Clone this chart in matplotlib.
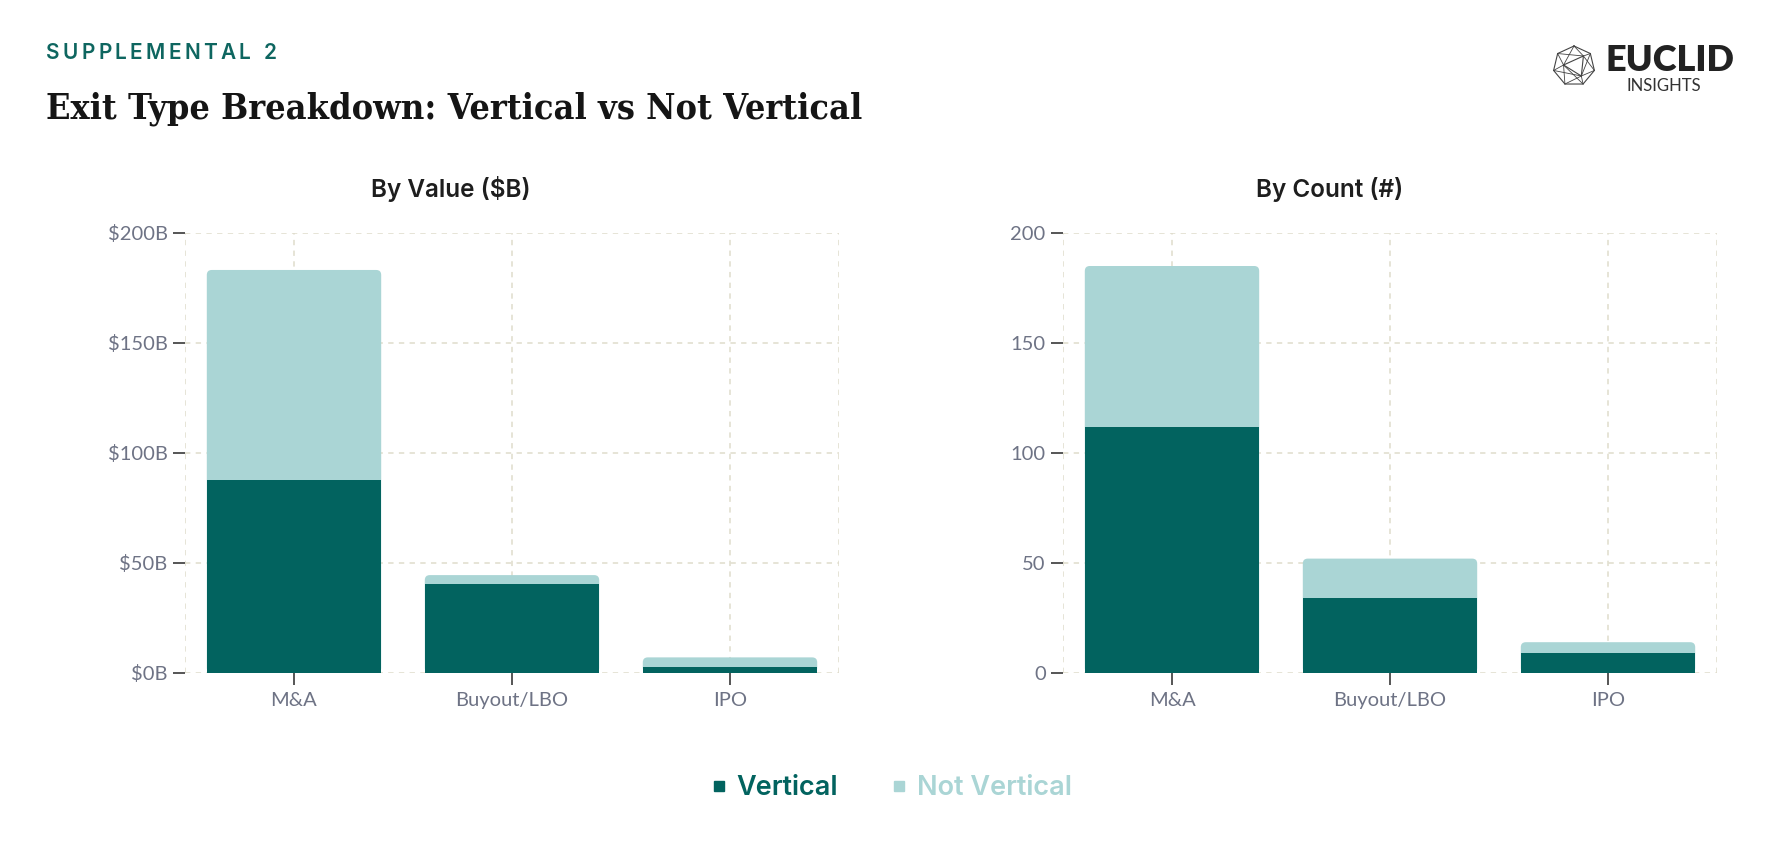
import matplotlib
matplotlib.use("Agg")
import matplotlib.pyplot as plt
from matplotlib.patches import FancyBboxPatch
from matplotlib.lines import Line2D
from matplotlib import font_manager as fm
import numpy as np

# ---------------- data ----------------
categories = ["M&A", "Buyout/LBO", "IPO"]
value_vertical = [87.7, 40.6, 2.9]
value_not_vertical = [95.5, 3.9, 4.2]
count_vertical = [112, 34, 9]
count_not_vertical = [73, 18, 5]
value_ticks = [0, 50, 100, 150, 200]
value_tick_labels = [r"\$0B", r"\$50B", r"\$100B", r"\$150B", r"\$200B"]
count_ticks = [0, 50, 100, 150, 200]
count_tick_labels = ["0", "50", "100", "150", "200"]
series_names = ["Vertical", "Not Vertical"]
panel_titles = [r"By Value (\$B)", "By Count (#)"]
kicker = "SUPPLEMENTAL 2"
title = "Exit Type Breakdown: Vertical vs Not Vertical"

# ---------------- style ----------------
DARK = "#02635F"
LIGHT = "#AAD5D5"
GRID = "#DFDCCC"
TICKLBL = "#6E7385"
TICKCOL = "#555555"
TEXT = "#1E1E1E"
SANS = ["Inter", "DejaVu Sans"]
TICKFONT = ["Lato", "DejaVu Sans"]

W, H = 1792, 852
fig = plt.figure(figsize=(W / 100, H / 100), dpi=100)
fig.patch.set_facecolor("white")


def fy(py):
    return 1 - py / H


ax_top, ax_bot = 233, 673
panels = [(185, 839), (1063, 1717)]
axes = []
for (l, r) in panels:
    ax = fig.add_axes([l / W, fy(ax_bot), (r - l) / W, (ax_bot - ax_top) / H])
    axes.append(ax)

datasets = [
    (value_vertical, value_not_vertical, value_ticks, value_tick_labels),
    (count_vertical, count_not_vertical, count_ticks, count_tick_labels),
]

x = np.arange(len(categories))
bar_w = 0.8
radius_px = 5

for ax, (l, r), (vert, notv, ticks, tlabels) in zip(axes, panels, datasets):
    ax.set_xlim(-0.5, len(categories) - 0.5)
    ax.set_ylim(0, 200)
    for s in ax.spines.values():
        s.set_visible(False)
    ax.set_axisbelow(True)
    ax.grid(True, color=GRID, linestyle=(0, (3.5, 3.5)), linewidth=1.1, zorder=0.5)
    for xv in (-0.5, len(categories) - 0.5):
        ax.axvline(xv, color=GRID, linestyle=(0, (3.5, 3.5)), linewidth=1.1, zorder=0.5)
    ax.set_yticks(ticks)
    ax.set_yticklabels(tlabels)
    ax.set_xticks(x)
    ax.set_xticklabels(categories)
    ax.tick_params(axis="both", length=8.5, width=1.4, color=TICKCOL,
                   labelcolor=TICKLBL, labelsize=14.5)
    ax.tick_params(axis="y", pad=4)
    ax.tick_params(axis="x", pad=5)
    for lbl in ax.get_xticklabels() + ax.get_yticklabels():
        lbl.set_fontfamily(TICKFONT)

    xu_per_px = (len(categories)) / (r - l)
    yu_per_px = 200 / (ax_bot - ax_top)
    aspect = yu_per_px / xu_per_px
    totals = np.array(vert) + np.array(notv)
    for xi, tot in zip(x, totals):
        p = FancyBboxPatch((xi - bar_w / 2, 0), bar_w, tot,
                           boxstyle=f"round,pad=0,rounding_size={radius_px * xu_per_px}",
                           mutation_aspect=aspect, facecolor=LIGHT, edgecolor="none",
                           zorder=2.5)
        ax.add_patch(p)
    ax.bar(x, vert, width=bar_w, color=DARK, edgecolor="none", zorder=3)

# panel titles
title_x = [451, 1330]
for tx, tt in zip(title_x, panel_titles):
    fig.text(tx / W, fy(197), tt, ha="center", va="baseline", fontsize=17.5,
             fontweight="semibold", color=TEXT, family=SANS)

# ---------------- header ----------------
renderer = fig.canvas.get_renderer()
cx = 46
tracking = 3.3
for ch in kicker:
    t = fig.text(cx / W, fy(59), ch, ha="left", va="baseline", fontsize=15,
                 fontweight="semibold", color="#0E6660", family=SANS)
    if ch == " ":
        cx += 7 + tracking
    else:
        cx += t.get_window_extent(renderer).width + tracking

# title font: condensed bold serif if available
serif_prop = None
for f in fm.fontManager.ttflist:
    if f.name == "DejaVu Serif" and "ondensed" in f.fname and "Bold" in f.fname and "Italic" not in f.fname:
        serif_prop = fm.FontProperties(fname=f.fname)
        break
if serif_prop is None:
    serif_prop = fm.FontProperties(family="Liberation Serif", weight="bold")
serif_prop.set_size(30)
tt = fig.text(46 / W, fy(119), title, ha="left", va="baseline",
              fontproperties=serif_prop, color="#151515")
wpx = tt.get_window_extent(renderer).width
serif_prop.set_size(30 * 812 / wpx)
tt.set_fontproperties(serif_prop)

# ---------------- logo ----------------
lax = fig.add_axes([1551 / W, fy(88), 46 / W, 44 / H])
lax.set_xlim(-1.1, 1.1)
lax.set_ylim(-1.1, 1.1)
lax.axis("off")
ang = np.deg2rad(90 + np.arange(7) * 360 / 7)
ox, oy = np.cos(ang), np.sin(ang)
lax.plot(np.append(ox, ox[0]), np.append(oy, oy[0]), color="#444444", lw=0.8)
inner = np.array([[-0.5, 0.05], [0.45, 0.5], [0.35, -0.5]])
lax.plot(np.append(inner[:, 0], inner[0, 0]), np.append(inner[:, 1], inner[0, 1]),
         color="#444444", lw=0.8)
for i in range(7):
    d = np.hypot(inner[:, 0] - ox[i], inner[:, 1] - oy[i])
    for j in np.argsort(d)[:2]:
        lax.plot([ox[i], inner[j, 0]], [oy[i], inner[j, 1]], color="#444444", lw=0.6)
fig.text(1605 / W, fy(71), "EUCLID", ha="left", va="baseline", fontsize=26,
         fontweight="heavy", color="#222222", family=["Lato", "DejaVu Sans"])
fig.text(1664 / W, fy(91), "INSIGHTS", ha="center", va="baseline", fontsize=12,
         color="#333333", family=["Lato", "DejaVu Sans"])

# ---------------- legend ----------------
handles = [Line2D([0], [0], marker="s", linestyle="none", markersize=6.5,
                  markerfacecolor=c, markeredgecolor=c) for c in (DARK, LIGHT)]
leg = fig.legend(handles, series_names, loc="center", bbox_to_anchor=(0.497, fy(788)),
                 ncol=2, frameon=False, handletextpad=0.3, columnspacing=1.9,
                 handlelength=0.7, prop={"family": SANS, "size": 19.5, "weight": "semibold"},
                 labelcolor=[DARK, LIGHT])

fig.savefig("out.png", dpi=100, facecolor="white")
